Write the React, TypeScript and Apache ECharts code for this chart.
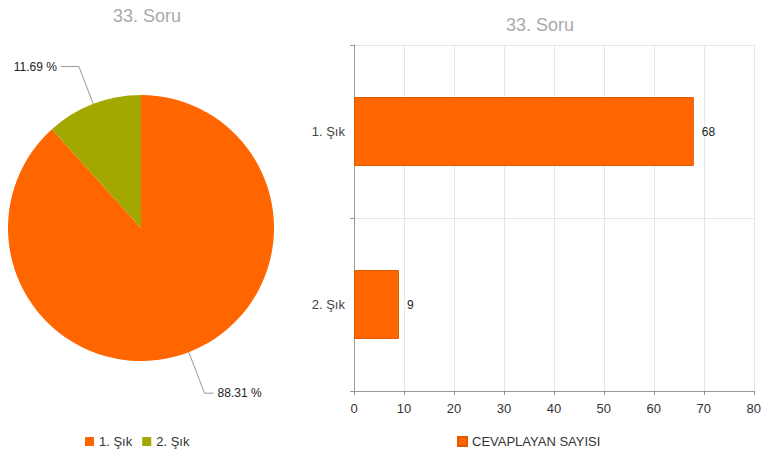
import React, { useEffect, useRef } from "react";
import * as echarts from "echarts";

const titleText = "33. Soru";
const categories = ["1. Şık", "2. Şık"];
const counts = [68, 9];
const seriesName = "CEVAPLAYAN SAYISI";
const pieColors = ["#FF6600", "#A2A800"];
const xMax = 80;
const xInterval = 10;

export default function App() {
  const ref = useRef<HTMLDivElement>(null);
  useEffect(() => {
    if (!ref.current) return;
    const chart = echarts.init(ref.current, undefined, { renderer: "svg" });
    const total = counts.reduce((a, b) => a + b, 0);
    const font = "Liberation Sans, Arial, sans-serif";
    const lineLens = [
      { length: 44, length2: 9 },
      { length: 40, length2: 18 },
    ];
    chart.setOption({
      animation: false,
      textStyle: { fontFamily: font },
      title: [
        {
          text: titleText,
          left: 142,
          top: 2,
          textAlign: "center",
          textStyle: { color: "#aaaaaa", fontSize: 18, fontWeight: "normal", fontFamily: font },
        },
        {
          text: titleText,
          left: 535,
          top: 11,
          textAlign: "center",
          textStyle: { color: "#aaaaaa", fontSize: 18, fontWeight: "normal", fontFamily: font },
        },
      ],
      legend: [
        {
          data: categories,
          left: 80,
          top: 430,
          itemWidth: 9,
          itemHeight: 9,
          itemGap: 10,
          icon: "rect",
          textStyle: { color: "#333", fontSize: 13, fontFamily: font },
        },
        {
          data: [seriesName],
          left: 452,
          top: 430,
          itemWidth: 9,
          itemHeight: 9,
          icon: "rect",
          textStyle: { color: "#333", fontSize: 13, fontFamily: font },
        },
      ],
      grid: { left: 354, right: 7, top: 45, bottom: 66, containLabel: false },
      xAxis: {
        type: "value",
        min: 0,
        max: xMax,
        interval: xInterval,
        axisLine: { show: true, lineStyle: { color: "#999" } },
        axisTick: { show: true, length: 4, lineStyle: { color: "#999" } },
        splitLine: { show: true, lineStyle: { color: "#e6e6e6" } },
        axisLabel: { color: "#333", fontSize: 13, margin: 11, fontFamily: font },
      },
      yAxis: {
        type: "category",
        data: categories,
        inverse: true,
        axisLine: { show: true, lineStyle: { color: "#999" } },
        axisTick: { show: true, length: 4, lineStyle: { color: "#999" } },
        splitLine: { show: true, lineStyle: { color: "#e6e6e6" } },
        axisLabel: { color: "#444", fontSize: 13, margin: 9, fontFamily: font },
      },
      series: [
        {
          type: "pie",
          name: titleText,
          center: [141, 228],
          radius: [0, 133],
          startAngle: 90,
          clockwise: true,
          data: categories.map((c, i) => ({
            name: c,
            value: counts[i],
            itemStyle: { color: pieColors[i] },
            labelLine: lineLens[i],
          })),
          label: {
            show: true,
            position: "outside",
            formatter: (p: any) => ((p.value / total) * 100).toFixed(2) + " %",
            color: "#222",
            fontSize: 12,
            fontFamily: font,
            distanceToLabelLine: 4,
          },
          labelLine: {
            show: true,
            length: 40,
            length2: 18,
            lineStyle: { color: "#999", width: 1 },
          },
          emphasis: { disabled: true },
        },
        {
          type: "bar",
          name: seriesName,
          data: counts,
          barWidth: 69,
          itemStyle: { color: "#FF6600", borderColor: "#E05A00", borderWidth: 1 },
          label: {
            show: true,
            position: "right",
            distance: 8,
            color: "#222",
            fontSize: 12,
            fontFamily: font,
          },
        },
      ],
    });
    return () => chart.dispose();
  }, []);
  return (
    <div
      ref={ref}
      style={{ position: "fixed", left: 0, top: 0, width: 764, height: 457, background: "#fff" }}
    />
  );
}
